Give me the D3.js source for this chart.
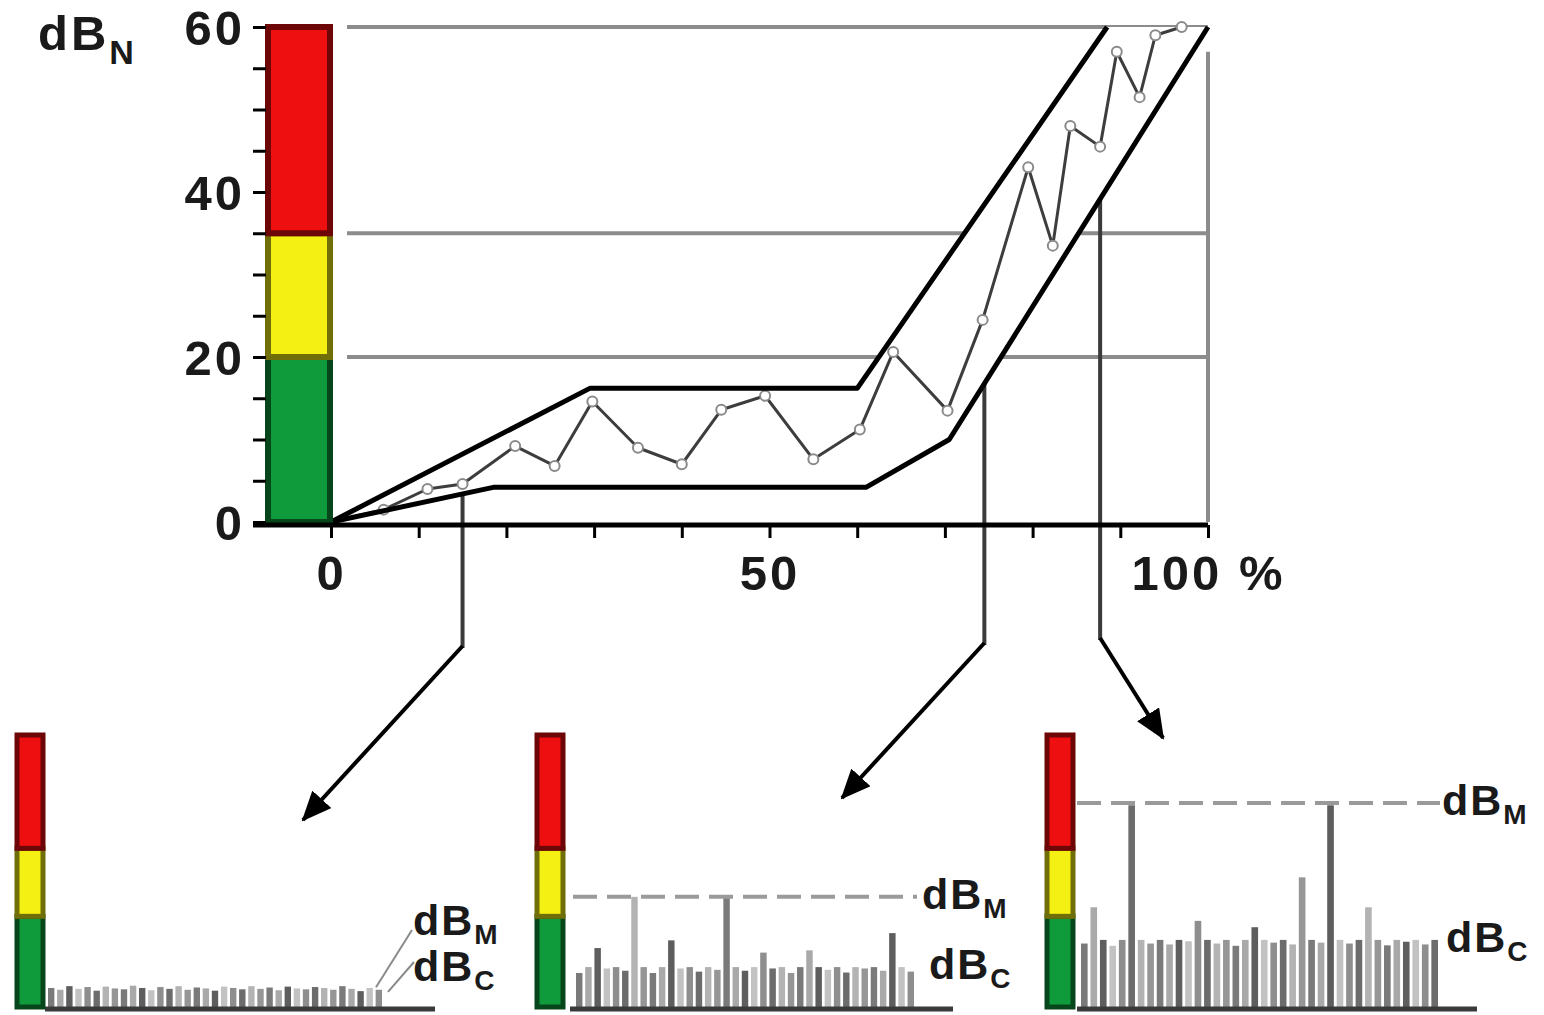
<!DOCTYPE html>
<html>
<head>
<meta charset="utf-8">
<script src="https://cdn.jsdelivr.net/npm/d3@7"></script>
<style>
  html, body { margin: 0; padding: 0; background: #ffffff; }
  svg { display: block; }
  text { font-family: "Liberation Sans", Arial, Helvetica, sans-serif; font-weight: bold; fill: #1a1a1a; }
</style>
</head>
<body>
<svg id="chart" width="1544" height="1015"></svg>
<script>
// ---- level zones of the meter (dB): green / yellow / red ----
const zoneBreaks = [0, 20, 35, 60];
const zoneColors = ["#0f9a3c", "#f5f014", "#ee1010"];

// ---- main chart axes ----
const gridLevels = [20, 35, 60];
const yTickValues = [0, 5, 10, 15, 20, 25, 30, 35, 40, 45, 50, 55, 60];
const yTickLabels = ["0", "", "", "", "20", "", "", "", "40", "", "", "", "60"];
const xTickValues = [0, 10, 20, 30, 40, 50, 60, 70, 80, 90, 100];
const xTickLabels = ["0", "", "", "", "", "50", "", "", "", "", "100 %"];

// ---- measured level curve (percent of range, dB) ----
const curvePct = [0, 6, 11, 15, 21, 25.5, 29.8, 35, 40, 44.5, 49.5, 55, 60.3, 64.1, 70.3, 74.3, 79.5, 82.3, 84.3, 87.7, 89.6, 92.2, 94, 97];
const curveDb  = [0, 1.5, 4.0, 4.6, 9.2, 6.8, 14.6, 9.0, 7.0, 13.6, 15.3, 7.6, 11.2, 20.6, 13.5, 24.5, 43, 33.5, 48, 45.5, 57, 51.5, 59, 60];

// ---- tolerance envelope ----
const upperPct = [0, 29.5, 60, 88.5];
const upperDb  = [0, 16.2, 16.2, 60];
const lowerPct = [0, 18.5, 61, 70.5, 100];
const lowerDb  = [0, 4.2, 4.2, 10, 60];

// ---- positions (percent) whose spectra are shown below ----
const samplePct = [15, 74.5, 87.7];

// ---- spectra at the three positions (dB per line) ----
const spectrumLow  = [4.2, 3.8, 4.6, 4.0, 4.4, 3.6, 4.5, 4.1, 3.9, 4.7, 4.2, 3.7, 4.4, 4.0, 4.6, 3.8, 4.3, 4.1, 3.6, 4.5, 4.2, 3.9, 4.6, 4.0, 4.3, 3.7, 4.5, 4.1, 3.9, 4.4, 4.2, 3.8, 4.6, 4.0, 3.5, 4.2, 3.8];
const spectrumMid  = [7.5, 8.8, 13, 8.5, 8.8, 8.0, 24.3, 8.8, 7.5, 8.8, 14.7, 8.5, 8.8, 7.8, 8.8, 8.2, 24.3, 8.8, 8.0, 8.8, 12, 8.5, 8.8, 7.5, 8.8, 12.5, 8.8, 8.2, 8.8, 7.6, 8.8, 8.5, 8.8, 8.0, 16.3, 8.8, 7.8];
const spectrumHigh = [14.0, 22, 14.8, 13.5, 14.8, 44.5, 14.8, 14.0, 14.8, 13.8, 14.8, 14.5, 19, 14.8, 14.0, 14.8, 13.5, 14.8, 17.6, 14.8, 14.2, 14.8, 13.8, 28.6, 14.8, 14.2, 44.5, 14.8, 14.0, 14.8, 22, 14.8, 13.6, 14.8, 14.4, 14.8, 13.8, 14.8];
const levelM = [4.8, 24.3, 45];
const levelC = [4.0, 8.8, 14.8];

// ================= drawing =================
const svg = d3.select("#chart");
const x = d3.scaleLinear().domain([0, 100]).range([331, 1208]);
const y = d3.scaleLinear().domain([0, 60]).range([522, 27]);
const py = d3.scaleLinear().domain([0, 60]).range([1007, 735]);

const interp = (px, py_) => p => {
  for (let i = 1; i < px.length; i++) {
    if (p <= px[i]) {
      const t = (p - px[i - 1]) / (px[i] - px[i - 1]);
      return py_[i - 1] + t * (py_[i] - py_[i - 1]);
    }
  }
  return py_[py_.length - 1];
};
const lowerAt = interp(lowerPct, lowerDb);

const gray = "#8c8c8c";

// gridlines
svg.append("g").selectAll("line").data(gridLevels).join("line")
  .attr("x1", 347).attr("x2", x(100))
  .attr("y1", d => y(d)).attr("y2", d => y(d))
  .attr("stroke", gray).attr("stroke-width", 4);
svg.append("line")
  .attr("x1", x(100)).attr("x2", x(100)).attr("y1", y(57)).attr("y2", y(0))
  .attr("stroke", gray).attr("stroke-width", 4);

// leader lines from the curve down to the spectra
const defs = svg.append("defs");
defs.append("marker").attr("id", "head")
  .attr("viewBox", "0 0 30 26").attr("refX", 28).attr("refY", 13)
  .attr("markerWidth", 30).attr("markerHeight", 26)
  .attr("markerUnits", "userSpaceOnUse").attr("orient", "auto")
  .append("path").attr("d", "M0,0 L30,13 L0,26 Z").attr("fill", "#000");

const elbowY = [648, 645, 640];
const tips = [[303, 820], [842, 798], [1163, 738]];
samplePct.forEach((p, i) => {
  const sx = x(p), sy = y(lowerAt(p));
  svg.append("line").attr("x1", sx).attr("x2", sx).attr("y1", sy).attr("y2", elbowY[i])
    .attr("stroke", "#3a3a3a").attr("stroke-width", 4);
  svg.append("line").attr("x1", sx).attr("y1", elbowY[i] - 2)
    .attr("x2", tips[i][0]).attr("y2", tips[i][1])
    .attr("stroke", "#000").attr("stroke-width", 4)
    .attr("marker-end", "url(#head)");
});

// white band between the envelope lines
const upperPts = upperPct.map((p, i) => [x(p), y(upperDb[i])]);
const lowerPts = lowerPct.map((p, i) => [x(p), y(lowerDb[i])]);
svg.append("path")
  .attr("d", d3.line()(upperPts.concat(lowerPts.slice().reverse())) + "Z")
  .attr("fill", "#fff");

// measured curve
svg.append("path")
  .attr("d", d3.line()(curvePct.map((p, i) => [x(p), y(curveDb[i])])))
  .attr("fill", "none").attr("stroke", "#3d3d3d").attr("stroke-width", 3)
  .attr("stroke-linejoin", "round");
svg.append("g").selectAll("circle").data(curvePct.slice(1)).join("circle")
  .attr("cx", d => x(d)).attr("cy", (d, i) => y(curveDb[i + 1])).attr("r", 5)
  .attr("fill", "#fff").attr("stroke", "#8a8a8a").attr("stroke-width", 2);

// envelope lines
[upperPts, lowerPts].forEach(pts => {
  svg.append("path").attr("d", d3.line()(pts))
    .attr("fill", "none").attr("stroke", "#000").attr("stroke-width", 5)
    .attr("stroke-linejoin", "round");
});

// meter bar on the y axis
function meter(g, x0, w, scale, sw) {
  zoneColors.forEach((c, i) => {
    g.append("rect")
      .attr("x", x0).attr("width", w)
      .attr("y", scale(zoneBreaks[i + 1])).attr("height", scale(zoneBreaks[i]) - scale(zoneBreaks[i + 1]))
      .attr("fill", c).attr("stroke", d3.color(c).darker(2.2)).attr("stroke-width", sw);
  });
}
meter(svg.append("g"), 268, 62, y, 6);

// y axis ticks and labels
const yAxis = svg.append("g").attr("transform", "translate(266,0)")
  .call(d3.axisLeft(y).tickValues(yTickValues).tickSize(13).tickPadding(8)
    .tickFormat((d, i) => yTickLabels[i]));
yAxis.select(".domain").remove();
yAxis.selectAll("line").attr("stroke", "#000").attr("stroke-width", 3);
yAxis.selectAll("text").attr("font-size", 49).attr("letter-spacing", 3)
  .attr("font-family", null).attr("dy", "0.36em");

// x axis
svg.append("line").attr("x1", 253).attr("x2", x(100)).attr("y1", 525).attr("y2", 525)
  .attr("stroke", "#000").attr("stroke-width", 5);
const xAxis = svg.append("g").attr("transform", "translate(0,525)")
  .call(d3.axisBottom(x).tickValues(xTickValues).tickSize(13).tickPadding(17)
    .tickFormat((d, i) => xTickLabels[i]));
xAxis.select(".domain").remove();
xAxis.selectAll("line").attr("stroke", "#000").attr("stroke-width", 3);
xAxis.selectAll("text").attr("font-size", 49).attr("letter-spacing", 3).attr("font-family", null);

// unit label
const unit = svg.append("text").attr("x", 38).attr("y", 50).attr("font-size", 49).attr("letter-spacing", 3);
unit.append("tspan").text("dB");
unit.append("tspan").attr("font-size", 34).attr("dy", 14).text("N");

// ---- spectrum panels ----
const panels = [
  { data: spectrumLow,  barX: 17,   bars: [48, 382],  axis: [45, 435] },
  { data: spectrumMid,  barX: 537,  bars: [576, 914], axis: [570, 953], dash: [573, 917], labX: [922, 929] },
  { data: spectrumHigh, barX: 1047, bars: [1081, 1438], axis: [1077, 1477], dash: [1077, 1440], labX: [1442, 1446] }
];
const shades = ["#7a7a7a", "#a9a9a9", "#5e5e5e", "#c2c2c2", "#8e8e8e", "#6c6c6c", "#b3b3b3", "#969696"];

function dbLabel(g, lx, ly, sub) {
  const t = g.append("text").attr("x", lx).attr("y", ly).attr("font-size", 43).attr("letter-spacing", 2);
  t.append("tspan").text("dB");
  t.append("tspan").attr("font-size", 28).attr("dy", 9).text(sub);
}

panels.forEach((pn, k) => {
  const g = svg.append("g");
  const bx = d3.scaleBand().domain(d3.range(pn.data.length)).range(pn.bars).paddingInner(0.3);
  g.selectAll("rect.line").data(pn.data).join("rect")
    .attr("x", (d, i) => bx(i)).attr("width", bx.bandwidth())
    .attr("y", d => py(d)).attr("height", d => py(0) - py(d))
    .attr("fill", (d, i) => shades[i % shades.length]);
  g.append("line").attr("x1", pn.axis[0]).attr("x2", pn.axis[1])
    .attr("y1", 1009).attr("y2", 1009).attr("stroke", "#3a3a3a").attr("stroke-width", 5);
  meter(g, pn.barX, 26, py, 5);
  if (pn.dash) {
    g.append("line").attr("x1", pn.dash[0]).attr("x2", pn.dash[1])
      .attr("y1", py(levelM[k])).attr("y2", py(levelM[k]))
      .attr("stroke", "#9a9a9a").attr("stroke-width", 4).attr("stroke-dasharray", "24,10");
    dbLabel(g, pn.labX[0], py(levelM[k]) + 12, "M");
    dbLabel(g, pn.labX[1], py(levelC[k]) + 12, "C");
  } else {
    g.append("line").attr("x1", 376).attr("y1", py(levelM[k]) + 2).attr("x2", 412).attr("y2", 930)
      .attr("stroke", "#8a8a8a").attr("stroke-width", 2);
    g.append("line").attr("x1", 388).attr("y1", py(levelC[k]) + 3).attr("x2", 414).attr("y2", 962)
      .attr("stroke", "#8a8a8a").attr("stroke-width", 2);
    dbLabel(g, 413, 935, "M");
    dbLabel(g, 413, 981, "C");
  }
});
</script>
</body>
</html>
